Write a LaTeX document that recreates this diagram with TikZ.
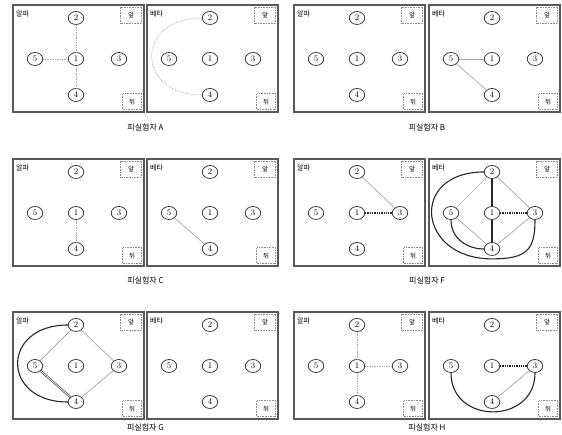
\documentclass[tikz,border=0pt]{standalone}
\usepackage{fontspec}
\newfontfamily\kr{Noto Sans CJK KR}
\usetikzlibrary{shapes.geometric}
\begin{document}
\begin{tikzpicture}[x=1pt,y=1pt,
  frame/.style={draw=black!65,line width=1.4pt},
  num/.style={draw=black!80,ellipse,line width=0.75pt,minimum width=15.5pt,minimum height=13pt,
    inner sep=0pt,font=\fontsize{8.5}{9}\selectfont},
  corner/.style={draw=black!45,densely dotted,line width=0.6pt,minimum height=16pt,inner sep=0pt,
    font=\kr\fontsize{6.5}{7}\selectfont},
  tag/.style={anchor=north west,inner sep=0pt,font=\kr\fontsize{7}{8}\selectfont},
  caption/.style={inner sep=0pt,font=\kr\fontsize{8}{9}\selectfont},
  lite/.style={black!35,line width=0.7pt},
  heavy/.style={black!85,line width=1.1pt},
  heavydot/.style={black!85,line width=1.3pt,densely dotted}]
  \useasboundingbox (0,0) rectangle (562,435);
  \foreach \p/\lab/\x/\y in {Aa/알파/13/5, Ab/베타/147/5, Ba/알파/294/5, Bb/베타/429/5,
      Ca/알파/13/159, Cb/베타/147/159, Fa/알파/294/159, Fb/베타/429/159,
      Ga/알파/13/312, Gb/베타/147/312, Ha/알파/294/312, Hb/베타/429/312}{
    \begin{scope}[shift={(\x,435-\y)}]
      \draw[frame] (0,0) rectangle (131,-107);
      \node[tag] (\p-lbl) at (3,-6) {\lab};
      \node[corner,minimum width=21pt,anchor=north east] (\p-front) at (129,-2) {앞};
      \node[corner,minimum width=19pt,anchor=south east] (\p-back) at (129,-105) {뒤};
      \node[num] (\p2) at (63,-13) {2};
      \node[num] (\p5) at (22,-54) {5};
      \node[num] (\p1) at (63,-54) {1};
      \node[num] (\p3) at (106,-54) {3};
      \node[num] (\p4) at (63,-90) {4};
    \end{scope}
  }
  \node[caption] (capA) at (145.5,308) {피실험자 A};
  \node[caption] (capB) at (427,308) {피실험자 B};
  \node[caption] (capC) at (145.5,155) {피실험자 C};
  \node[caption] (capF) at (427,155) {피실험자 F};
  \node[caption] (capG) at (145.5,8) {피실험자 G};
  \node[caption] (capH) at (427,8) {피실험자 H};

  \draw[lite,densely dotted] (Aa2) -- (Aa1) -- (Aa4);
  \draw[lite,densely dotted] (Aa5) -- (Aa1);
  \draw[lite,densely dotted] (Ab2.west) .. controls +(-67,0) and +(-67,0) .. (Ab4.west);

  \draw[lite] (Bb5) -- (Bb1);
  \draw[lite] (Bb5) -- (Bb4);

  \draw[lite,densely dotted] (Ca1) -- (Ca4);
  \draw[lite] (Cb5) -- (Cb4);

  \draw[lite] (Fa2) -- (Fa3);
  \draw[heavydot] (Fa1) -- (Fa3);
  \draw[lite] (Fb2) -- (Fb5) -- (Fb4) -- (Fb3) -- (Fb2);
  \draw[heavy] (Fb2) -- (Fb1) -- (Fb4);
  \draw[heavydot] (Fb1) -- (Fb3);
  \draw[heavy] (Fb5.south) .. controls +(0,-20) and +(-15,0) .. (Fb4.west);
  \draw[heavy] (Fb2.west) .. controls +(-75,0) and +(-75,0) .. ([yshift=-3pt]Fb4.south)
    .. controls +(35,0) and +(0,-30) .. (Fb3.south);

  \draw[lite] (Ga2) -- (Ga5);
  \draw[lite] (Ga2) -- (Ga3) -- (Ga4);
  \draw[heavy,line width=0.6pt,double=white,double distance=0.8pt] (Ga5) -- (Ga4);
  \draw[heavy] (Ga2.west) .. controls +(-67,0) and +(-67,0) .. (Ga4.west);

  \draw[lite,densely dotted] (Ha2) -- (Ha1) -- (Ha4);
  \draw[lite,densely dotted] (Ha1) -- (Ha3);
  \draw[heavydot] (Hb1) -- (Hb3);
  \draw[lite] (Hb4) -- (Hb3);
  \draw[heavy] (Hb5.south) .. controls +(0,-52) and +(0,-52) .. (Hb3.south);
\end{tikzpicture}
\end{document}
